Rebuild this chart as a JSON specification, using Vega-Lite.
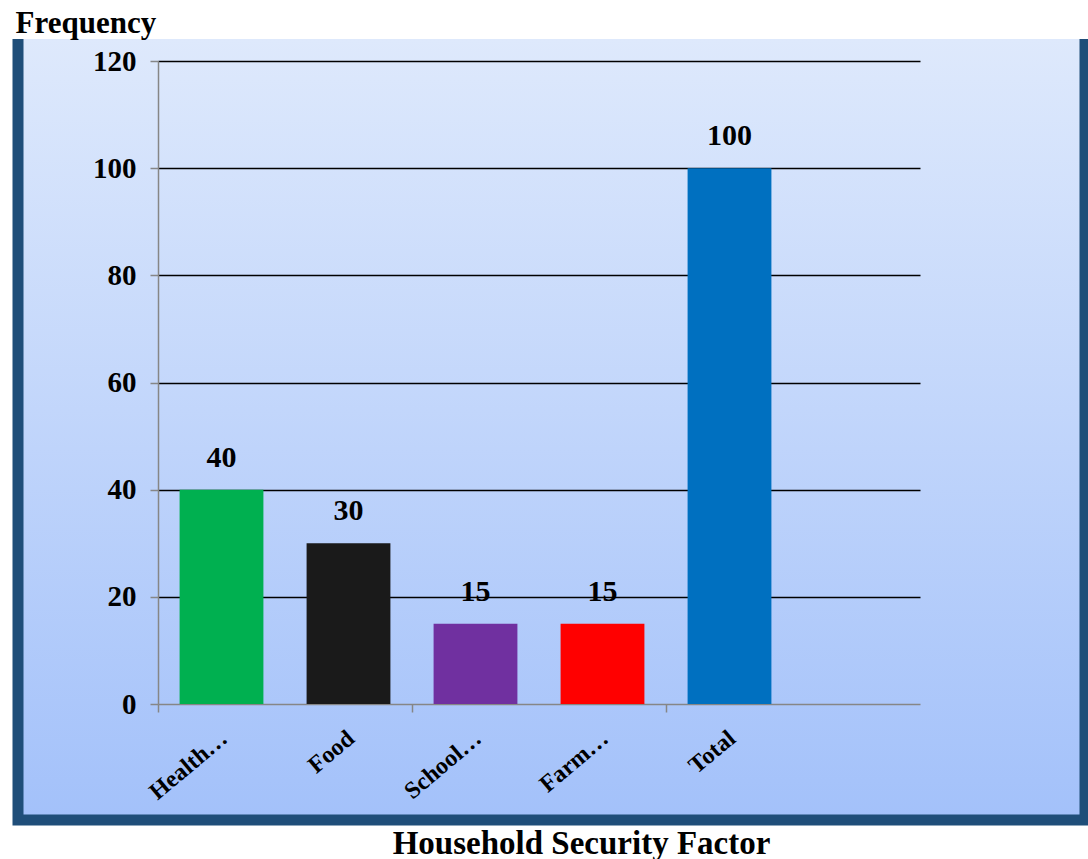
{
  "$schema": "https://vega.github.io/schema/vega-lite/v6.json",
  "width": 1067,
  "height": 781,
  "autosize": {"type": "none"},
  "padding": {"left": 18, "top": 39, "right": 3, "bottom": 39},
  "background": "#ffffff",
  "data": {
    "values": [
      {"factor": "Health…", "frequency": 40},
      {"factor": "Food", "frequency": 30},
      {"factor": "School…", "frequency": 15},
      {"factor": "Farm…", "frequency": 15},
      {"factor": "Total", "frequency": 100}
    ]
  },
  "layer": [
    {
      "mark": {"type": "bar", "width": {"band": 0.66}},
      "encoding": {
        "x": {
          "field": "factor",
          "type": "nominal",
          "sort": null,
          "scale": {"domain": ["Health…", "Food", "School…", "Farm…", "Total", " "], "range": [140, 902], "paddingInner": 0, "paddingOuter": 0},
          "axis": {
            "orient": "bottom",
            "offset": -116,
            "ticks": false,
            "grid": false,
            "domainColor": "#868686",
            "domainWidth": 1.5,
            "labelAngle": -40,
            "labelAlign": "right",
            "labelBaseline": "middle",
            "labelPadding": 31,
            "labelOffset": 3,
            "labelFont": "Liberation Serif",
            "labelFontSize": 24,
            "labelFontWeight": "bold",
            "labelColor": "#000000",
            "labelOverlap": false,
            "title": "Household Security Factor",
            "titleFont": "Liberation Serif",
            "titleFontSize": 33,
            "titleFontWeight": "bold",
            "titleColor": "#000000",
            "titleBaseline": "alphabetic",
            "titleAlign": "center",
            "titleX": 563,
            "titleY": 149
          }
        },
        "y": {
          "field": "frequency",
          "type": "quantitative",
          "scale": {"domain": [0, 120], "range": [665, 22], "nice": false},
          "axis": {
            "values": [0, 20, 40, 60, 80, 100, 120],
            "offset": -140,
            "grid": true,
            "gridColor": {"condition": {"test": "datum.value === 0", "value": "transparent"}, "value": "#000000"},
            "gridWidth": 1.5,
            "domainColor": "#868686",
            "domainWidth": 1.5,
            "tickColor": "#868686",
            "tickSize": 8,
            "tickWidth": 1.5,
            "labelFont": "Liberation Serif",
            "labelFontSize": 29,
            "labelFontWeight": "bold",
            "labelColor": "#000000",
            "labelPadding": 14,
            "labelOverlap": false,
            "labelFlush": false,
            "title": "Frequency",
            "titleAngle": 0,
            "titleAlign": "left",
            "titleBaseline": "alphabetic",
            "titleX": -143,
            "titleY": -7,
            "titleFont": "Liberation Serif",
            "titleFontSize": 31,
            "titleFontWeight": "bold",
            "titleColor": "#000000"
          }
        },
        "color": {
          "field": "factor",
          "type": "nominal",
          "scale": {"domain": ["Health…", "Food", "School…", "Farm…", "Total"], "range": ["#00b050", "#1a1a1a", "#7030a0", "#ff0000", "#0070c0"]},
          "legend": null
        }
      }
    },
    {
      "mark": {"type": "text", "baseline": "alphabetic", "align": "center", "dy": -23, "font": "Liberation Serif", "fontSize": 30, "fontWeight": "bold", "color": "#000000"},
      "encoding": {
        "x": {
          "field": "factor",
          "type": "nominal",
          "sort": null,
          "axis": {
            "orient": "bottom",
            "offset": -116,
            "values": ["Health…", "School…", "Total"],
            "bandPosition": 0,
            "ticks": true,
            "tickSize": 8,
            "tickWidth": 1.5,
            "tickColor": "#868686",
            "domain": false,
            "labels": false,
            "grid": false,
            "title": null
          }
        },
        "y": {"field": "frequency", "type": "quantitative"},
        "text": {"field": "frequency", "type": "quantitative"}
      }
    }
  ],
  "resolve": {"axis": {"x": "independent"}},
  "config": {
    "view": {
      "fill": {
        "gradient": "linear",
        "x1": 0, "y1": 0, "x2": 0, "y2": 1,
        "stops": [
          {"offset": 0, "color": "#dee9fc"},
          {"offset": 1, "color": "#a3c1fa"}
        ]
      },
      "stroke": "#1f4e79",
      "strokeWidth": 11,
      "strokeDash": [2629, 1067],
      "strokeDashOffset": 2629
    }
  }
}
